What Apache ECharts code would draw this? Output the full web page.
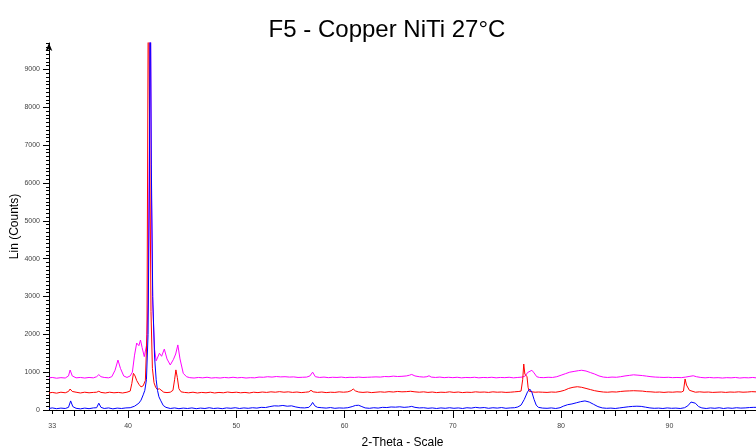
<!DOCTYPE html>
<html>
<head>
<meta charset="utf-8">
<script src="https://cdn.jsdelivr.net/npm/echarts@6/dist/echarts.min.js"></script>
<style>
  html, body { margin: 0; padding: 0; background: #fff; }
  #chart { width: 756px; height: 448px; }
</style>
</head>
<body>
<div id="chart"></div>
<script>
// 2-Theta tick labels
var xLabels = [33, 40, 50, 60, 70, 80, 90];
var yLabels = [0, 1000, 2000, 3000, 4000, 5000, 6000, 7000, 8000, 9000];

// scans: [2-theta, counts]
var magenta = [
  [32.7,850],[33.0,860],[33.4,840],[33.8,855],[34.2,845],[34.5,900],[34.65,1057],[34.85,900],[35.2,850],[35.6,860],
  [36.0,845],[36.4,860],[36.8,850],[37.1,880],[37.3,935],[37.5,880],[37.8,860],[38.2,850],[38.5,880],[38.8,1050],
  [39.07,1320],[39.3,1100],[39.6,900],[39.9,860],[40.2,900],[40.4,1000],[40.6,1450],[40.8,1770],[41.0,1700],[41.15,1850],
  [41.3,1650],[41.5,1410],[41.7,1700],[41.85,2800],[41.97,7000],[42.05,12500],[42.15,6000],[42.28,2800],[42.45,1600],[42.6,1300],
  [42.72,1260],[42.9,1500],[43.1,1420],[43.35,1610],[43.6,1350],[43.9,1190],[44.2,1340],[44.4,1480],[44.6,1720],[44.8,1350],
  [45.1,970],[45.4,880],[45.7,855],[46.1,845],[46.5,860],[46.9,850],[47.3,865],[47.7,845],[48.1,855],[48.5,845],
  [48.9,860],[49.3,850],[49.7,865],[50.1,850],[50.5,860],[50.9,845],[51.3,855],[51.7,850],[52.1,870],[52.5,865],
  [52.9,880],[53.3,870],[53.7,885],[54.1,875],[54.5,880],[54.9,870],[55.3,875],[55.7,860],[56.1,865],[56.5,870],
  [56.8,900],[57.05,1000],[57.3,880],[57.7,860],[58.1,870],[58.5,855],[58.9,865],[59.3,860],[59.7,870],[60.1,855],
  [60.5,865],[60.9,860],[61.3,870],[61.7,860],[62.1,865],[62.5,870],[62.9,875],[63.3,870],[63.7,885],[64.1,880],
  [64.5,895],[64.9,885],[65.3,890],[65.7,900],[66.0,920],[66.2,940],[66.5,900],[66.9,880],[67.3,870],[67.6,880],
  [67.8,905],[68.0,870],[68.4,860],[68.8,870],[69.2,855],[69.6,865],[70.0,855],[70.4,865],[70.8,850],[71.2,860],
  [71.6,855],[72.0,865],[72.4,850],[72.8,860],[73.2,855],[73.6,865],[74.0,850],[74.4,860],[74.8,855],[75.2,865],
  [75.6,850],[76.0,860],[76.4,870],[76.7,900],[76.9,990],[77.3,1050],[77.5,980],[77.75,880],[78.0,860],[78.4,855],
  [78.8,865],[79.2,860],[79.6,880],[80.0,920],[80.4,960],[80.8,1000],[81.2,1020],[81.6,1040],[81.9,1050],[82.3,1030],
  [82.7,990],[83.1,950],[83.5,900],[83.9,870],[84.3,860],[84.7,870],[85.1,865],[85.5,880],[85.9,900],[86.3,915],
  [86.7,930],[87.1,920],[87.5,910],[87.9,895],[88.3,880],[88.7,870],[89.1,865],[89.5,860],[89.9,865],[90.3,855],
  [90.7,860],[91.1,855],[91.5,870],[91.9,890],[92.2,905],[92.5,880],[92.9,860],[93.3,850],[93.7,860],[94.1,850],
  [94.5,855],[94.9,845],[95.3,855],[95.7,850],[96.1,860],[96.5,845],[96.9,855],[97.3,850],[97.7,860],[98.0,850]
];

var red = [
  [32.7,450],[33.0,465],[33.4,445],[33.8,470],[34.2,455],[34.5,490],[34.65,555],[34.85,490],[35.2,470],[35.6,450],
  [36.0,470],[36.4,455],[36.8,465],[37.1,470],[37.3,495],[37.5,465],[37.9,450],[38.3,470],[38.7,455],[39.1,465],
  [39.5,450],[39.9,470],[40.2,500],[40.35,700],[40.5,970],[40.65,900],[40.8,780],[41.0,680],[41.2,610],[41.4,640],
  [41.6,780],[41.75,2000],[41.88,12000],[42.0,7000],[42.12,2600],[42.25,1100],[42.4,720],[42.55,600],[42.7,545],[42.9,560],
  [43.05,520],[43.3,470],[43.6,460],[43.9,470],[44.15,520],[44.3,800],[44.42,1060],[44.55,860],[44.7,560],[44.9,480],
  [45.2,465],[45.6,455],[46.0,470],[46.4,450],[46.8,465],[47.2,455],[47.6,470],[48.0,450],[48.4,465],[48.8,455],
  [49.2,475],[49.6,460],[50.0,470],[50.4,455],[50.8,465],[51.2,450],[51.6,470],[52.0,460],[52.4,475],[52.8,465],
  [53.2,480],[53.6,470],[54.0,485],[54.4,470],[54.8,480],[55.2,465],[55.6,475],[56.0,460],[56.4,470],[56.7,480],
  [56.9,520],[57.1,480],[57.5,465],[57.9,475],[58.3,460],[58.7,470],[59.1,465],[59.5,480],[59.9,470],[60.3,480],
  [60.6,510],[60.8,555],[61.0,505],[61.3,475],[61.7,465],[62.1,475],[62.5,460],[62.9,470],[63.3,480],[63.7,470],
  [64.1,485],[64.5,475],[64.9,490],[65.3,480],[65.7,485],[66.1,495],[66.5,480],[66.9,470],[67.3,480],[67.7,465],
  [68.1,475],[68.5,460],[68.9,470],[69.3,465],[69.7,480],[70.1,465],[70.5,475],[70.9,460],[71.3,470],[71.7,465],
  [72.1,480],[72.5,470],[72.9,475],[73.3,465],[73.7,480],[74.1,470],[74.5,475],[74.9,465],[75.3,470],[75.7,480],
  [76.1,490],[76.3,500],[76.45,800],[76.55,1215],[76.65,950],[76.75,900],[76.85,880],[76.95,600],[77.05,495],[77.3,480],
  [77.6,470],[77.9,475],[78.3,470],[78.7,465],[79.1,475],[79.5,470],[79.9,490],[80.3,520],[80.7,570],[81.1,600],
  [81.5,615],[81.9,600],[82.3,570],[82.7,540],[83.1,510],[83.5,490],[83.9,475],[84.3,470],[84.7,480],[85.1,475],
  [85.5,490],[85.9,500],[86.3,505],[86.7,510],[87.1,505],[87.5,500],[87.9,485],[88.3,480],[88.7,470],[89.1,475],
  [89.5,465],[89.9,475],[90.3,470],[90.7,480],[91.1,475],[91.3,500],[91.45,820],[91.58,660],[91.72,650],[91.85,520],
  [92.0,480],[92.4,470],[92.8,480],[93.2,470],[93.6,475],[94.0,465],[94.4,470],[94.8,475],[95.2,465],[95.6,475],
  [96.0,470],[96.4,480],[96.8,470],[97.2,475],[97.6,485],[98.0,480]
];

var blue = [
  [32.7,40],[33.0,55],[33.4,35],[33.8,50],[34.2,40],[34.5,70],[34.7,240],[34.9,90],[35.2,45],[35.6,30],
  [36.0,50],[36.4,35],[36.8,55],[37.1,60],[37.3,180],[37.5,70],[37.8,40],[38.2,55],[38.6,30],[39.0,50],
  [39.4,40],[39.8,55],[40.2,60],[40.6,100],[41.0,180],[41.2,260],[41.4,400],[41.55,520],[41.7,800],[41.85,2000],
  [41.97,6000],[42.05,11500],[42.15,6500],[42.28,3000],[42.45,1400],[42.6,800],[42.72,520],[42.85,350],[43.0,260],[43.1,220],
  [43.25,120],[43.5,70],[43.9,40],[44.3,55],[44.7,35],[45.1,50],[45.5,40],[45.9,55],[46.3,35],[46.7,50],
  [47.1,40],[47.5,60],[47.9,40],[48.3,50],[48.7,35],[49.1,55],[49.5,45],[49.9,60],[50.3,40],[50.7,55],
  [51.1,45],[51.5,60],[51.9,50],[52.3,70],[52.7,65],[53.1,90],[53.5,110],[53.9,105],[54.3,120],[54.7,100],
  [55.1,110],[55.5,80],[55.9,60],[56.3,55],[56.7,70],[56.9,130],[57.05,200],[57.25,110],[57.5,70],[57.9,60],
  [58.3,50],[58.7,65],[59.1,45],[59.5,55],[59.9,50],[60.3,60],[60.7,90],[61.0,120],[61.3,125],[61.6,90],
  [61.9,55],[62.3,45],[62.7,60],[63.1,50],[63.5,70],[63.9,65],[64.3,80],[64.7,75],[65.1,85],[65.5,70],
  [65.9,80],[66.2,95],[66.5,70],[66.9,55],[67.3,60],[67.7,45],[68.1,55],[68.5,40],[68.9,55],[69.3,45],
  [69.7,60],[70.1,45],[70.5,55],[70.9,40],[71.3,60],[71.7,50],[72.1,70],[72.5,55],[72.9,65],[73.3,45],
  [73.7,60],[74.1,50],[74.5,65],[74.9,45],[75.3,55],[75.7,60],[76.0,80],[76.3,130],[76.6,280],[76.9,480],
  [77.1,555],[77.3,470],[77.5,280],[77.7,130],[77.9,70],[78.3,50],[78.7,45],[79.1,55],[79.5,40],[79.9,60],
  [80.2,100],[80.6,140],[81.0,160],[81.4,190],[81.8,220],[82.2,240],[82.6,210],[83.0,150],[83.4,90],[83.8,55],
  [84.2,45],[84.6,50],[85.0,40],[85.4,55],[85.8,70],[86.2,85],[86.6,95],[87.0,100],[87.4,95],[87.8,75],
  [88.2,55],[88.6,45],[89.0,50],[89.4,40],[89.8,55],[90.2,45],[90.6,50],[91.0,40],[91.4,60],[91.7,110],
  [92.0,210],[92.15,245],[92.4,180],[92.7,90],[93.0,55],[93.4,40],[93.8,55],[94.2,45],[94.6,60],[95.0,40],
  [95.4,55],[95.8,45],[96.2,60],[96.6,50],[97.0,55],[97.4,65],[97.8,70],[98.0,70]
];

// tick positions
var xMinorTicks = [];
for (var i = 33; i <= 98; i++) xMinorTicks.push(i);
var xMidTicks = [35, 45, 55, 65, 75, 85, 95];
var yMinorTicks = [];
for (var j = 0; j <= 9700; j += 100) yMinorTicks.push(j);

var chart = echarts.init(document.getElementById('chart'));

var labelFont = { fontFamily: 'Liberation Sans, Arial, sans-serif', fontSize: 7, color: '#444' };
var tickStyle = { color: '#000', width: 1 };

chart.setOption({
  animation: false,
  title: {
    text: 'F5 - Copper NiTi 27°C',
    left: 382, textAlign: 'center', top: 13,
    textStyle: { fontFamily: 'Liberation Sans, Arial, sans-serif', fontSize: 24, fontWeight: 'normal', color: '#000' }
  },
  grid: { left: 49, right: 0, top: 43, bottom: 38, containLabel: false, outerBoundsMode: 'none' },
  xAxis: [
    {
      type: 'value', min: 32.7, max: 98,
      name: '2-Theta - Scale', nameLocation: 'middle', nameGap: 27,
      nameTextStyle: { fontFamily: 'Liberation Sans, Arial, sans-serif', fontSize: 12, color: '#000' },
      axisLine: { show: true, onZero: false, lineStyle: { color: '#000', width: 1 } },
      axisTick: { show: true, customValues: [40, 50, 60, 70, 80, 90], length: 8, lineStyle: tickStyle },
      axisLabel: Object.assign({ customValues: xLabels, margin: 13 }, labelFont),
      splitLine: { show: false }
    },
    {
      type: 'value', min: 32.7, max: 98, position: 'bottom',
      axisLine: { show: false, onZero: false },
      axisTick: { show: true, customValues: xMinorTicks, length: 4, lineStyle: tickStyle },
      axisLabel: { show: false },
      splitLine: { show: false }
    },
    {
      type: 'value', min: 32.7, max: 98, position: 'bottom',
      axisLine: { show: false, onZero: false },
      axisTick: { show: true, customValues: xMidTicks, length: 6, lineStyle: tickStyle },
      axisLabel: { show: false },
      splitLine: { show: false }
    }
  ],
  yAxis: [
    {
      type: 'value', min: 0, max: 9700,
      name: 'Lin (Counts)', nameLocation: 'middle', nameGap: 28, nameRotate: 90, nameMoveOverlap: false,
      nameTextStyle: { fontFamily: 'Liberation Sans, Arial, sans-serif', fontSize: 12, color: '#000' },
      axisLine: { show: true, onZero: false, symbol: ['none', 'arrow'], symbolSize: [5, 8], lineStyle: { color: '#000', width: 1 } },
      axisTick: { show: true, customValues: yLabels, length: 6, lineStyle: tickStyle },
      axisLabel: Object.assign({ customValues: yLabels, margin: 9, formatter: function (v) { return String(v); } }, labelFont),
      splitLine: { show: false }
    },
    {
      type: 'value', min: 0, max: 9700, position: 'left',
      axisLine: { show: false, onZero: false },
      axisTick: { show: true, customValues: yMinorTicks, length: 3, lineStyle: tickStyle },
      axisLabel: { show: false },
      splitLine: { show: false }
    }
  ],
  series: [
    { name: 'magenta', type: 'line', data: magenta, showSymbol: false, clip: true,
      lineStyle: { color: '#ff00ff', width: 1 } },
    { name: 'red', type: 'line', data: red, showSymbol: false, clip: true,
      lineStyle: { color: '#ff0000', width: 1 } },
    { name: 'blue', type: 'line', data: blue, showSymbol: false, clip: true,
      lineStyle: { color: '#0000ff', width: 1 } }
  ]
});
</script>
</body>
</html>
